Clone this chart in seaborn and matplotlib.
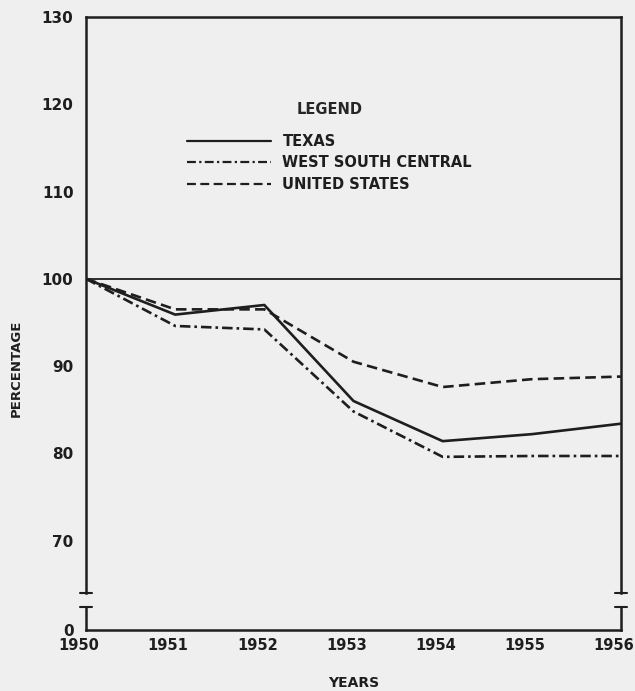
import matplotlib
matplotlib.use("Agg")
import matplotlib.pyplot as plt
import matplotlib.transforms as mtransforms
import seaborn as sns
import pandas as pd

years = [1950, 1951, 1952, 1953, 1954, 1955, 1956]
texas = [100.0, 95.9, 97.0, 86.0, 81.4, 82.2, 83.4]
west_south_central = [100.0, 94.6, 94.2, 84.8, 79.6, 79.7, 79.7]
united_states = [100.0, 96.5, 96.5, 90.5, 87.6, 88.5, 88.8]
series_names = ["TEXAS", "WEST SOUTH CENTRAL", "UNITED STATES"]
y_ticks = [70, 80, 90, 100, 110, 120, 130]

rows = []
for name, vals in zip(series_names, [texas, west_south_central, united_states]):
    for y, v in zip(years, vals):
        rows.append({"year": y, "value": v, "region": name})
df = pd.DataFrame(rows)

sns.set_theme(style="white")
bg = "#efefef"
ink = "#1e1e1e"
plt.rcParams["font.family"] = ["DejaVu Sans"]
plt.rcParams["font.weight"] = "bold"

fig = plt.figure(figsize=(6.35, 6.91), dpi=100, facecolor=bg)
L, R = 86 / 635, 621 / 635
top_y0 = 1 - 593 / 691
top_h = (593 - 17) / 691
bot_y0 = 1 - 630 / 691
bot_h = (630 - 607) / 691
ax = fig.add_axes([L, top_y0, R - L, top_h])
axb = fig.add_axes([L, bot_y0, R - L, bot_h], sharex=ax)
for a in (ax, axb):
    a.set_facecolor(bg)

palette = {n: ink for n in series_names}
dashes = {"TEXAS": "", "WEST SOUTH CENTRAL": (4, 1.5, 1, 1.5), "UNITED STATES": (4, 2)}
sns.lineplot(data=df, x="year", y="value", hue="region", style="region",
             palette=palette, dashes=dashes, linewidth=1.9, ax=ax,
             hue_order=series_names, style_order=series_names)
ax.axhline(100, color=ink, lw=1.3, zorder=1)

ax.set_xlim(1950, 1956)
ax.set_ylim(64, 130)
ax.set_yticks(y_ticks)
ax.set_yticklabels([str(t) for t in y_ticks])
ax.tick_params(axis="y", direction="in", length=8, width=1.2, colors=ink,
               labelsize=11, pad=9)
ax.tick_params(axis="x", bottom=False, labelbottom=False)
ax.spines["bottom"].set_visible(False)
for s in ("left", "right", "top"):
    ax.spines[s].set_color(ink)
    ax.spines[s].set_linewidth(1.8)
ax.set_xlabel("")
ax.set_ylabel("PERCENTAGE", fontsize=9.5, fontweight="bold", color=ink,
              family=["Liberation Sans Narrow", "DejaVu Sans"])
ax.yaxis.set_label_coords(-0.118, 0.39)

axb.set_ylim(0, 2.6)
axb.set_yticks([0])
axb.set_yticklabels(["0"])
axb.set_xticks(years)
axb.set_xticklabels([str(y) for y in years])
axb.tick_params(axis="y", length=0, colors=ink, labelsize=11, pad=9)
axb.tick_params(axis="x", direction="in", length=8, width=1.2, colors=ink,
                labelsize=10.5, pad=6)
shift = mtransforms.ScaledTranslation(-7 / 100, 0, fig.dpi_scale_trans)
for lab in axb.get_xticklabels():
    lab.set_transform(lab.get_transform() + shift)
axb.spines["top"].set_visible(False)
for s in ("left", "right", "bottom"):
    axb.spines[s].set_color(ink)
    axb.spines[s].set_linewidth(1.8)
axb.set_xlabel("YEARS", fontsize=10, fontweight="bold", color=ink, labelpad=16)

# break caps
cap = 0.012
for xx in (0, 1):
    ax.plot([xx - cap, xx + cap], [0, 0], transform=ax.transAxes, color=ink,
            lw=1.5, clip_on=False)
    axb.plot([xx - cap, xx + cap], [1, 1], transform=axb.transAxes, color=ink,
             lw=1.5, clip_on=False)

leg = ax.legend(title="LEGEND", loc="upper left", bbox_to_anchor=(0.164, 0.875),
                frameon=False, handlelength=5.8, handletextpad=0.75,
                labelspacing=0.45, fontsize=10.5, title_fontsize=10.5)
leg.get_title().set_fontweight("bold")
leg._legend_box.sep = 12
for t in leg.get_texts():
    t.set_color(ink)
    t.set_fontweight("bold")
for h in leg.get_lines():
    h.set_linewidth(1.6)

fig.savefig("out.png", dpi=100, facecolor=bg)
